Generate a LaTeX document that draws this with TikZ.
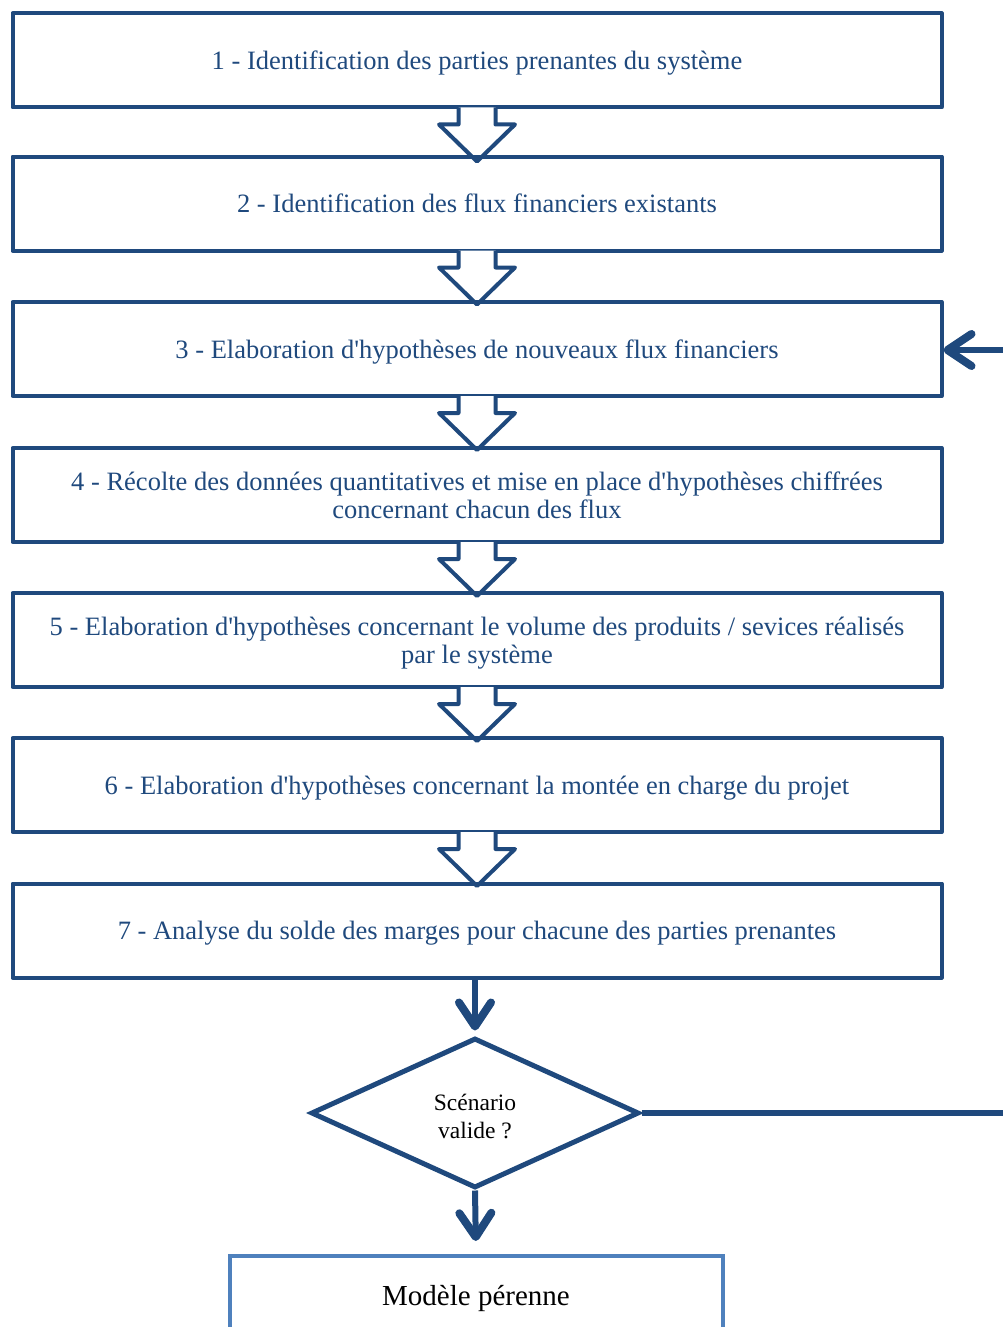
\documentclass[tikz,border=0pt]{standalone}
\usepackage{fontspec}
\setmainfont{Liberation Serif}
\usetikzlibrary{shapes.geometric,arrows.meta,calc}
\definecolor{dblue}{HTML}{1F497D}
\definecolor{lblue}{HTML}{4F81BD}
\newcommand\apos{\textquotesingle}
\begin{document}
\begin{tikzpicture}[x=1pt,y=-1pt,
  stepbox/.style={draw=dblue,line width=4pt,line join=round,minimum width=929pt,
    minimum height=94pt,inner sep=0pt,text=dblue,font=\fontsize{26.5}{28}\selectfont,align=center},
  onebox/.style={stepbox,text height=24pt,text depth=5.8pt},
  steptext/.style={text=dblue,font=\fontsize{26.5}{28}\selectfont,align=center,inner sep=0pt},
  blockarrow/.style={draw=dblue,line width=4pt,fill=white,line join=round},
  thickarrow/.style={draw=dblue,line width=6pt,-{Straight Barb[length=24pt,width=32pt,round,line width=8pt]}},
  decision/.style={draw=dblue,line width=5pt,shape=diamond,minimum width=328pt,minimum height=150pt,
    inner sep=0pt},
  dectext/.style={align=center,font=\fontsize{23.5}{28}\selectfont,text=black,inner sep=0pt},
  endbox/.style={draw=lblue,line width=4pt,minimum width=493pt,minimum height=78pt,inner sep=0pt,
    font=\fontsize{29}{32}\selectfont,text=black,text height=28pt,text depth=7pt}]
\clip (0,0) rectangle (1003,1327);
\useasboundingbox (0,0) rectangle (1003,1327);
\newcommand\blockarr[1]{%
  \draw[blockarrow] ($(#1.south)+(-18.5,-2)$) -- ($(#1.south)+(-18.5,15)$) -- ($(#1.south)+(-38,15)$)
    -- ($(#1.south)+(0,52)$) -- ($(#1.south)+(38,15)$) -- ($(#1.south)+(18.5,15)$) -- ($(#1.south)+(18.5,-2)$);}
\node[onebox] (b1) at (477,60.5) {1 - Identification des parties prenantes du système};
\blockarr{b1}
\node[onebox] (b2) at (477,203.5) {2 - Identification des flux financiers existants};
\blockarr{b2}
\node[onebox] (b3) at (477,349) {3 - Elaboration d\apos hypothèses de nouveaux flux financiers};
\blockarr{b3}
\node[stepbox] (b4) at (477,495) {4 - Récolte des données quantitatives et mise en place d\apos hypothèses chiffrées\\concernant chacun des flux};
\blockarr{b4}
\node[stepbox,label={[steptext,yshift=-3pt]center:5 - Elaboration d\apos hypothèses concernant le volume des produits / sevices réalisés\\par le système}] (b5) at (477,640) {};
\blockarr{b5}
\node[onebox] (b6) at (477,785) {6 - Elaboration d\apos hypothèses concernant la montée en charge du projet};
\blockarr{b6}
\node[onebox] (b7) at (477,930.5) {7 - Analyse du solde des marges pour chacune des parties prenantes};
\node[decision,label={[dectext,yshift=-3pt]center:Scénario\\valide ?}] (d) at (475,1113) {};
\node[endbox] (m) at (476,1295) {Modèle pérenne};
\coordinate (r1) at (1012,1113);
\coordinate (r2) at (1012,350);
\draw[thickarrow,shorten >=5pt] (b7.south -| d.north) -- (d.north);
\draw[thickarrow,shorten >=13pt] (d.south) -- (m.north);
\draw[thickarrow] (d.east) -- (r1) -- (r2) -- (r2 -| b3.east);
\end{tikzpicture}
\end{document}
